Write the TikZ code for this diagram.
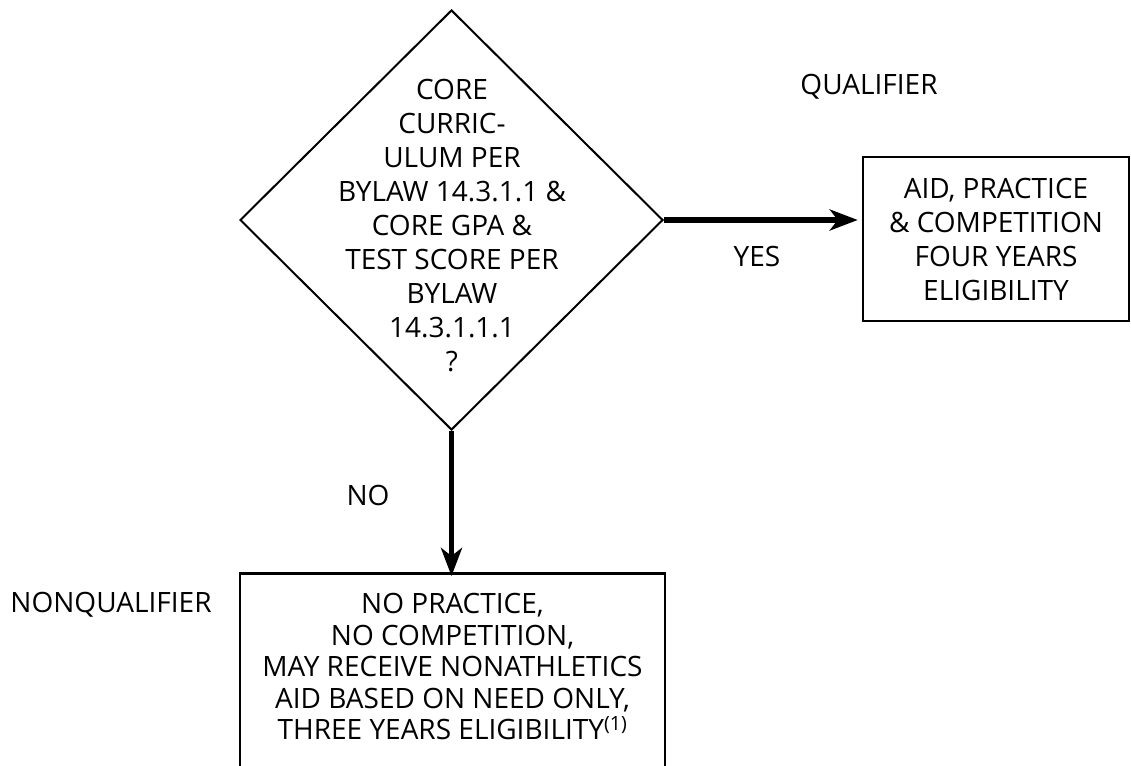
\documentclass[tikz,border=0pt]{standalone}
\usepackage{fontspec}
\setmainfont{Open Sans}
\usetikzlibrary{shapes.geometric,arrows.meta}
\begin{document}
\begin{tikzpicture}[x=1pt,y=-1pt,
    every node/.style={font=\fontsize{28}{34}\selectfont, align=center},
    outcome/.style={draw, line width=2.5pt, inner sep=0pt},
    flow/.style={line width=5.5pt, -{Stealth[length=28pt,width=21pt,inset=8pt]}}]
    \useasboundingbox (0,0) rectangle (1131,765);
    \clip (0,0) rectangle (1131,765);
    % decision
    \node[diamond, draw, line width=2pt, minimum width=423pt, minimum height=420pt, inner sep=0pt] (test) at (451.5,220) {};
    \node (testtext) at (452,226) {CORE\\CURRIC-\\ULUM PER\\BYLAW 14.3.1.1 \&\\CORE GPA \&\\TEST SCORE PER\\BYLAW\\14.3.1.1.1\\?};
    % outcomes
    \node[outcome, minimum width=266pt, minimum height=164pt] (qual) at (996,239) {AID, PRACTICE\\\& COMPETITION\\FOUR YEARS\\ELIGIBILITY};
    \node[outcome, anchor=north, minimum width=425pt, inner ysep=20pt, text depth=30pt,
          font=\fontsize{28}{31.5}\selectfont] (nonqual) at (452.5,572) {NO PRACTICE,\\NO COMPETITION,\\MAY RECEIVE NONATHLETICS\\AID BASED ON NEED ONLY,\\THREE YEARS ELIGIBILITY\textsuperscript{(1)}};
    \draw[flow] (test.east) -- ([xshift=-4pt]test.east -| qual.west);
    \draw[flow] (test.south) -- ([yshift=-4pt]test.south |- nonqual.north);
    % labels
    \node (qlabel) at (869,87) {QUALIFIER};
    \node (yes) at (757,256) {YES};
    \node (no) at (368,495) {NO};
    \node (nqlabel) at (111,605) {NONQUALIFIER};
\end{tikzpicture}
\end{document}
